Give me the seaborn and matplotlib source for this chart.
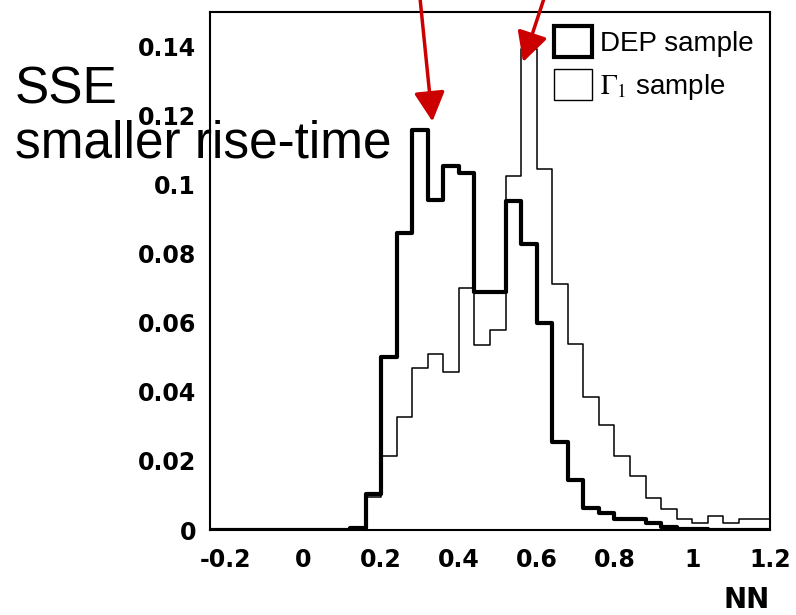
import numpy as np
import pandas as pd
import seaborn as sns
import matplotlib
matplotlib.use("Agg")
import matplotlib.pyplot as plt
from matplotlib.patches import Patch
from matplotlib.ticker import MultipleLocator

# ---------------- data ----------------
bin_edges = [round(-0.24 + 0.04 * i, 2) for i in range(37)]  # 36 bins of width 0.04

dep_values = [0, 0, 0, 0, 0, 0, 0, 0, 0, 0.0005,
              0.0105, 0.050, 0.086, 0.1157, 0.0955, 0.1055, 0.1035, 0.069, 0.069, 0.0952,
              0.0828, 0.060, 0.0254, 0.0145, 0.0065, 0.0048, 0.0031, 0.0031, 0.0019, 0.0010,
              0.0003, 0.0003, 0, 0, 0, 0]

g1_values = [0, 0, 0, 0, 0, 0, 0, 0, 0, 0,
             0.0097, 0.0213, 0.0326, 0.0469, 0.0510, 0.0457, 0.0700, 0.0536, 0.0580, 0.1026,
             0.1393, 0.1046, 0.0713, 0.0539, 0.0386, 0.0304, 0.0214, 0.0155, 0.0094, 0.0061,
             0.0031, 0.0021, 0.0041, 0.0021, 0.0031, 0.0031]

series_labels = ["DEP sample", r"$\Gamma_1$ sample"]

x_tick_values = [-0.2, 0, 0.2, 0.4, 0.6, 0.8, 1.0, 1.2]
x_tick_labels = ["-0.2", "0", "0.2", "0.4", "0.6", "0.8", "1", "1.2"]
y_tick_values = [0, 0.02, 0.04, 0.06, 0.08, 0.10, 0.12, 0.14]
y_tick_labels = ["0", "0.02", "0.04", "0.06", "0.08", "0.1", "0.12", "0.14"]

x_label = "NN"
note_lines = ["SSE", "smaller rise-time"]

# annotation arrows: (tail, tip) in data coords
arrow_specs = [((0.290, 0.1652), (0.332, 0.1183)),
               ((0.652, 0.1652), (0.565, 0.1355))]

# ---------------- style ----------------
sns.set_style("white")
plt.rcParams["font.family"] = ["Liberation Sans", "DejaVu Sans"]
plt.rcParams["mathtext.fontset"] = "stix"
plt.rcParams["axes.unicode_minus"] = False
for k in ["text.color", "axes.labelcolor", "xtick.color", "ytick.color", "axes.edgecolor"]:
    plt.rcParams[k] = "black"

edges_arr = np.array(bin_edges)
centers = (edges_arr[:-1] + edges_arr[1:]) / 2
df_dep = pd.DataFrame({"x": centers, "w": np.array(dep_values, dtype=float)})
df_g1 = pd.DataFrame({"x": centers, "w": np.array(g1_values, dtype=float)})

fig = plt.figure(figsize=(7.96, 6.15), dpi=100)
ax = fig.add_axes([210 / 796, 1 - 530 / 615, 560 / 796, 518 / 615])

sns.histplot(data=df_g1, x="x", weights="w", bins=bin_edges,
             element="step", fill=False, color="black", linewidth=1.1, ax=ax)
sns.histplot(data=df_dep, x="x", weights="w", bins=bin_edges,
             element="step", fill=False, color="black", linewidth=3.0, ax=ax)

ax.set_xlim(bin_edges[0], bin_edges[-1])
ax.set_ylim(0, 0.15)
ax.set_xticks(x_tick_values)
ax.set_xticklabels(x_tick_labels)
ax.set_yticks(y_tick_values)
ax.set_yticklabels(y_tick_labels)
ax.xaxis.set_minor_locator(MultipleLocator(0.05))
ax.yaxis.set_minor_locator(MultipleLocator(0.005))
ax.tick_params(axis="both", which="both", direction="in", width=1.5, colors="black",
               top=False, right=False)
ax.tick_params(axis="y", which="major", length=12, pad=10, labelsize=17)
ax.tick_params(axis="y", which="minor", length=6)
ax.tick_params(axis="x", which="major", length=10, pad=13, labelsize=17)
ax.tick_params(axis="x", which="minor", length=4.5)
for lab in ax.get_xticklabels() + ax.get_yticklabels():
    lab.set_fontweight("bold")
    lab.set_family(["DejaVu Sans"])
for sp in ax.spines.values():
    sp.set_linewidth(1.5)
    sp.set_color("black")

ax.set_ylabel("")
ax.set_xlabel(x_label, fontsize=20, fontweight="bold", ha="right", family=["DejaVu Sans"])
ax.xaxis.set_label_coords(1.0, -0.108)

handles = [Patch(facecolor="white", edgecolor="black", linewidth=3.0),
           Patch(facecolor="white", edgecolor="black", linewidth=1.0)]
ax.legend(handles, series_labels, loc="upper left", frameon=False, fontsize=20,
          bbox_to_anchor=(554 / 796, 1 - 26 / 615), bbox_transform=fig.transFigure,
          borderpad=0, borderaxespad=0, handlelength=1.35, handleheight=1.33,
          handletextpad=0.3, labelspacing=0.45)

for i, line in enumerate(note_lines):
    fig.text(15 / 796, 1 - (103 + 55 * i) / 615, line, fontsize=37, ha="left",
             va="baseline", color="black")

for tail, tip in arrow_specs:
    ax.annotate("", xy=tip, xytext=tail, xycoords="data", textcoords="data",
                annotation_clip=False,
                arrowprops=dict(arrowstyle="-|>,head_length=0.9,head_width=0.47",
                                color="#cc0000", lw=2.5, shrinkA=0, shrinkB=0,
                                mutation_scale=20))

fig.savefig("out.png", dpi=100)
